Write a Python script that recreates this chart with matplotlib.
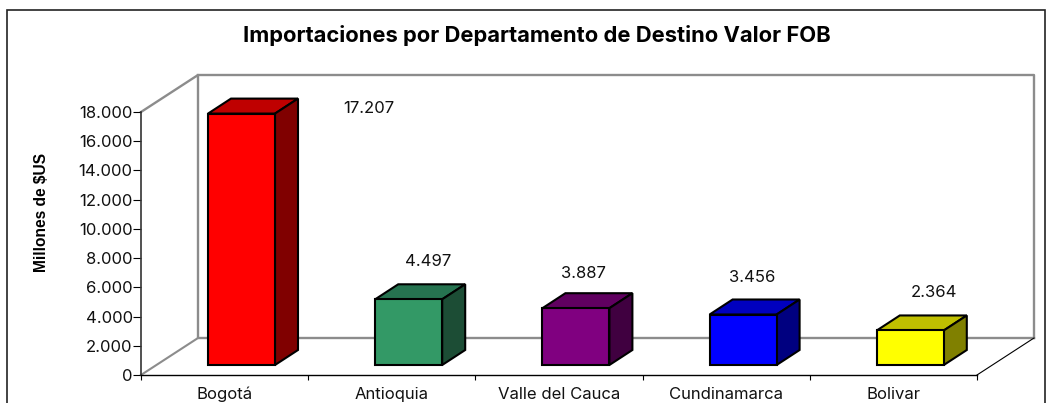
import matplotlib
matplotlib.use("Agg")
import matplotlib.pyplot as plt
from matplotlib.patches import Polygon, Rectangle

categories = ["Bogotá", "Antioquia", "Valle del Cauca", "Cundinamarca", "Bolivar"]
values = [17207, 4497, 3887, 3456, 2364]
value_labels = ["17.207", "4.497", "3.887", "3.456", "2.364"]
front_colors = ["#ff0000", "#339966", "#800080", "#0000ff", "#ffff00"]
top_colors = ["#bf0000", "#267350", "#600060", "#0000bf", "#bfbf00"]
side_colors = ["#800000", "#1c4d35", "#400040", "#000080", "#808000"]
y_ticks = [0, 2000, 4000, 6000, 8000, 10000, 12000, 14000, 16000, 18000]
y_tick_labels = ["0", "2.000", "4.000", "6.000", "8.000", "10.000", "12.000", "14.000", "16.000", "18.000"]

W, H = 1052, 403
plt.rcParams["font.family"] = ["Inter", "Liberation Sans"]
FS = 12
fig = plt.figure(figsize=(W / 100, H / 100), dpi=100, facecolor="white")
# frame
fig.add_artist(Rectangle((7 / W, -0.05), 1038 / W, 1.05 - 10 / H, transform=fig.transFigure,
                         fill=False, ec="#222222", lw=1.2))

L, R, T, B = 141, 977, 112, 375
ax = fig.add_axes([L / W, 1 - B / H, (R - L) / W, (B - T) / H])
ax.set_xlim(0, 5)
ax.set_ylim(0, 18000)
ax.patch.set_alpha(0)
px = 5 / (R - L)          # categories per pixel
py = 18000 / (B - T)      # value units per pixel

# walls
wx, wy = 57 * px, 37 * py
grey = "#8c8c8c"
ax.plot([0, wx, wx, 5 + wx], [18000, 18000 + wy, wy, wy], color=grey, lw=1.7, clip_on=False, zorder=1)
ax.plot([wx, 5 + wx, 5 + wx], [18000 + wy, 18000 + wy, wy], color=grey, lw=1.7, clip_on=False, zorder=1)
ax.plot([0, wx], [0, wy], color=grey, lw=1.5, clip_on=False, zorder=1)
ax.plot([5, 5 + wx], [0, wy], color="black", lw=0.8, clip_on=False, zorder=1)

# bars
bw = 67 * px
ddx, ddy = 23 * px, 15 * py
base = 10 * py
for i, v in enumerate(values):
    x0 = i + 67 * px
    x1 = x0 + bw
    y0 = base
    y1 = base + v
    style = dict(ec="black", lw=1.5, joinstyle="miter", clip_on=False, zorder=3)
    ax.add_patch(Polygon([(x0, y1), (x1, y1), (x1 + ddx, y1 + ddy), (x0 + ddx, y1 + ddy)], fc=top_colors[i], **style))
    ax.add_patch(Polygon([(x1, y0), (x1 + ddx, y0 + ddy), (x1 + ddx, y1 + ddy), (x1, y1)], fc=side_colors[i], **style))
    ax.add_patch(Rectangle((x0, y0), bw, v, fc=front_colors[i], **style))

# value labels placed by hand in the source chart (pixels from the bar's top centre)
offsets = [(127, 5), (19, 38), (8, 35), (9, 37), (24, 38)]
for i, v in enumerate(values):
    x_mid = i + 67 * px + bw / 2
    ax.annotate(value_labels[i], (x_mid, base + v), xytext=(offsets[i][0] * 0.72, offsets[i][1] * 0.72),
                textcoords="offset points", ha="center", va="center", fontsize=FS,
                color="#111111", annotation_clip=False, zorder=4)

# axes
for s in ("top", "right"):
    ax.spines[s].set_visible(False)
ax.spines["left"].set_color("#333333")
ax.spines["left"].set_linewidth(1.2)
ax.spines["bottom"].set_linewidth(1.0)
ax.set_yticks(y_ticks, y_tick_labels, fontsize=FS, color="#111111")
ax.set_xticks(range(6), [""] * 6)
ax.set_xticks([i + 0.5 for i in range(5)], categories, minor=True, fontsize=FS, color="#111111")
ax.tick_params(axis="x", which="minor", length=0, pad=8.5)
ax.tick_params(axis="x", which="major", length=3.6, width=0.8, direction="out")
ax.tick_params(axis="y", length=5.5, width=0.8, pad=0.5)

fig.text(41 / W, 1 - 212 / H, "Millones de $US", rotation=90, ha="center", va="center",
         fontsize=11.2, fontweight="bold", family="Liberation Sans")
fig.text(537 / W, 1 - 36 / H, "Importaciones por Departamento de Destino Valor FOB", ha="center",
         va="center", fontsize=15.8, fontweight="bold")

fig.savefig("out.png", dpi=100)
